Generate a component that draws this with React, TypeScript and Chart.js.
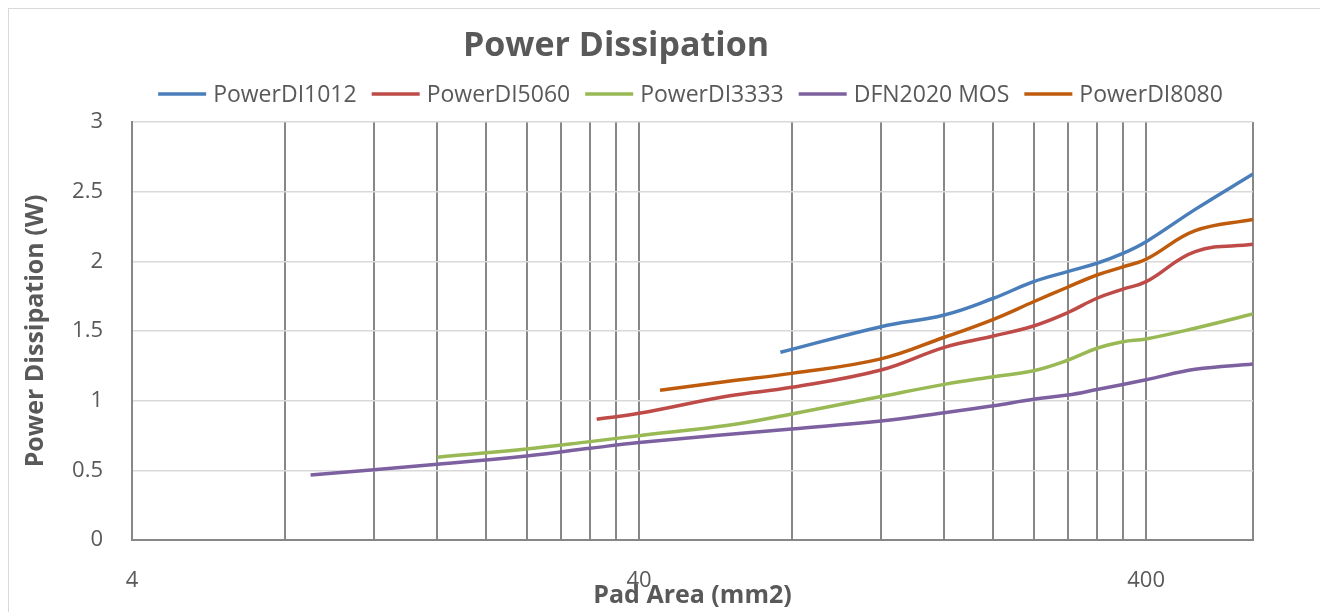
import React, { useEffect, useRef } from "react";
import { Chart, registerables } from "chart.js";

Chart.register(...registerables);

// ---- data ----
const chartTitle = "Power Dissipation";
const xAxisTitle = "Pad Area (mm2)";
const yAxisTitle = "Power Dissipation (W)";

const seriesNames = ["PowerDI1012", "PowerDI5060", "PowerDI3333", "DFN2020 MOS", "PowerDI8080"];
const seriesColors = ["#4a7ebb", "#be4b48", "#98b954", "#7d60a0", "#bf5b0c"];

const powerDI1012X = [76, 120, 160, 200, 240, 280, 320, 360, 400, 500, 650];
const powerDI1012Y = [1.347, 1.531, 1.615, 1.735, 1.854, 1.926, 1.986, 2.057, 2.141, 2.373, 2.627];

const powerDI5060X = [33, 40, 60, 80, 120, 160, 200, 240, 280, 320, 360, 400, 500, 650];
const powerDI5060Y = [0.866, 0.909, 1.033, 1.096, 1.22, 1.383, 1.464, 1.536, 1.631, 1.735, 1.8, 1.854, 2.07, 2.122];

const powerDI3333X = [16, 24, 32, 40, 60, 80, 120, 160, 200, 240, 280, 320, 360, 400, 500, 650];
const powerDI3333Y = [0.594, 0.653, 0.706, 0.749, 0.823, 0.904, 1.03, 1.117, 1.172, 1.215, 1.29, 1.376, 1.423, 1.443, 1.52, 1.622];

const dfn2020X = [9, 16, 24, 32, 40, 80, 120, 160, 200, 240, 280, 320, 400, 500, 650];
const dfn2020Y = [0.467, 0.543, 0.603, 0.658, 0.7, 0.797, 0.854, 0.914, 0.964, 1.01, 1.04, 1.08, 1.15, 1.225, 1.263];

const powerDI8080X = [44, 60, 80, 120, 160, 200, 240, 280, 320, 360, 400, 500, 650];
const powerDI8080Y = [1.074, 1.14, 1.196, 1.3, 1.455, 1.584, 1.71, 1.814, 1.902, 1.96, 2.015, 2.22, 2.3];

const seriesX = [powerDI1012X, powerDI5060X, powerDI3333X, dfn2020X, powerDI8080X];
const seriesY = [powerDI1012Y, powerDI5060Y, powerDI3333Y, dfn2020Y, powerDI8080Y];

const xMin = 4;
const xMax = 650;
const xGridValues = [4, 8, 12, 16, 20, 24, 28, 32, 36, 40, 80, 120, 160, 200, 240, 280, 320, 360, 400, 650];
const xLabelValues = [4, 40, 400];
const yMin = 0;
const yMax = 3;
const yStep = 0.5;

const FONT = '"Open Sans", "Noto Sans", sans-serif';
const TEXT = "#595959";

const headerPlugin = {
  id: "headerPlugin",
  afterDraw(chart: any) {
    const ctx = chart.ctx as CanvasRenderingContext2D;
    ctx.save();
    ctx.fillStyle = TEXT;
    ctx.font = `bold 34px ${FONT}`;
    ctx.textAlign = "center";
    ctx.textBaseline = "alphabetic";
    ctx.fillText(chartTitle, 607, 47);

    // legend
    ctx.font = `23px ${FONT}`;
    const ds = chart.data.datasets;
    const widths = ds.map((d: any) => ctx.measureText(d.label).width);
    const sample = 48, gapA = 7, gapB = 15;
    let total = 0;
    widths.forEach((w: number) => (total += sample + gapA + w));
    total += gapB * (ds.length - 1);
    let x = 681.5 - total / 2;
    const y = 85;
    ds.forEach((d: any, i: number) => {
      ctx.strokeStyle = d.borderColor;
      ctx.lineWidth = 3.5;
      ctx.beginPath();
      ctx.moveTo(x, y);
      ctx.lineTo(x + sample, y);
      ctx.stroke();
      x += sample + gapA;
      ctx.textAlign = "left";
      ctx.textBaseline = "middle";
      ctx.fillStyle = TEXT;
      ctx.fillText(d.label, x, y + 1);
      x += widths[i] + gapB;
    });
    ctx.restore();
  },
};

export default function App() {
  const ref = useRef<HTMLCanvasElement | null>(null);

  useEffect(() => {
    if (!ref.current) return;
    const datasets = seriesNames.map((name, i) => ({
      label: name,
      data: seriesX[i].map((x, j) => ({ x, y: seriesY[i][j] })),
      borderColor: seriesColors[i],
      backgroundColor: seriesColors[i],
      borderWidth: 3.5,
      pointRadius: 0,
      pointHoverRadius: 0,
      tension: 0.4,
      fill: false,
    }));

    const chart = new Chart(ref.current, {
      type: "line",
      data: { datasets },
      plugins: [headerPlugin],
      options: {
        animation: false,
        responsive: false,
        layout: { padding: { top: 113, right: 68, left: 0, bottom: 0 } },
        plugins: {
          legend: { display: false },
          title: { display: false },
          tooltip: { enabled: false },
        },
        scales: {
          x: {
            type: "logarithmic",
            min: xMin,
            max: xMax,
            afterBuildTicks: (s: any) => {
              s.ticks = xGridValues.map((v) => ({ value: v }));
            },
            afterFit: (s: any) => {
              s.height = 79;
            },
            ticks: {
              autoSkip: false,
              maxRotation: 0,
              minRotation: 0,
              padding: 28,
              color: TEXT,
              font: { family: FONT, size: 22 },
              callback: (v: any) => (xLabelValues.includes(Number(v)) ? String(v) : ""),
            },
            grid: { color: "#878787", lineWidth: 2, drawTicks: false },
            border: { color: "#878787", width: 2 },
            title: {
              display: true,
              text: xAxisTitle,
              color: TEXT,
              font: { family: FONT, size: 25, weight: "bold" },
              padding: { top: 0, bottom: 8 },
            },
          },
          y: {
            type: "linear",
            min: yMin,
            max: yMax,
            afterFit: (s: any) => {
              s.width = 123;
            },
            ticks: {
              stepSize: yStep,
              padding: 29,
              color: TEXT,
              font: { family: FONT, size: 22 },
              callback: (v: any) => String(Number(v)),
            },
            grid: { color: "#d9d9d9", lineWidth: 1.5, drawTicks: false },
            border: { color: "#878787", width: 2 },
            title: {
              display: true,
              text: yAxisTitle,
              color: TEXT,
              font: { family: FONT, size: 25, weight: "bold" },
              padding: { top: 12, bottom: 0 },
            },
          },
        },
      } as any,
    });
    return () => chart.destroy();
  }, []);

  return (
    <div style={{ width: 1312, height: 610, border: "1px solid #d9d9d9", background: "#fff" }}>
      <canvas ref={ref} width={1312} height={610} style={{ display: "block" }} />
    </div>
  );
}
